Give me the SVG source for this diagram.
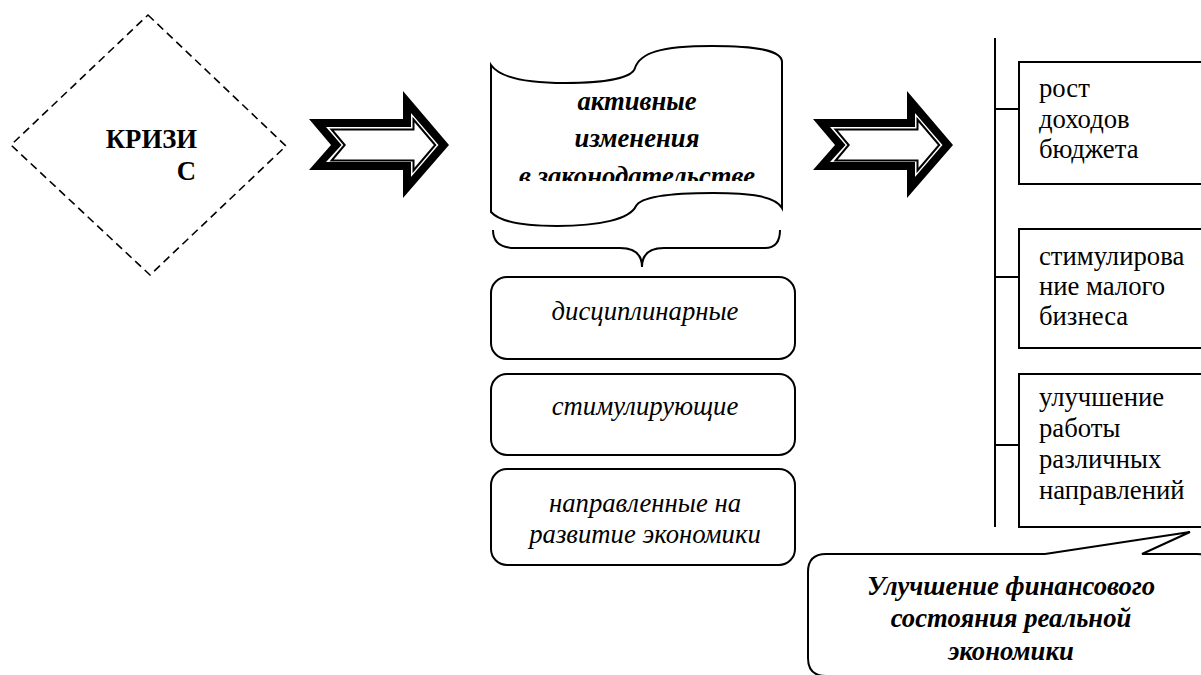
<svg xmlns="http://www.w3.org/2000/svg" width="1201" height="675" viewBox="0 0 1201 675">
<defs>
<style>
.t{font-family:"Liberation Serif","Times New Roman",serif;font-size:26.7px;fill:#000}
.bi{font-weight:bold;font-style:italic}
.i{font-style:italic}
.b{font-weight:bold}
.ln{fill:none;stroke:#000;stroke-width:2}
.box{fill:#fff;stroke:#000;stroke-width:2}
</style>
<clipPath id="tapeClip"><rect x="480" y="40" width="320" height="141"/></clipPath>
<g id="arrowShape">
<polygon points="309,119 403,119 403,91 449,145 403,198 403,170 309,170 331,145" fill="#000"/>
<polygon points="326,127 411,127 411,113 438.5,145 411,177 411,162 326,162 341.5,145" fill="#fff"/>
<polygon points="331.6,129.5 413.5,129.5 413.5,119.5 435.2,145 413.5,170.5 413.5,160.5 331.6,160.5 344.7,145" fill="#fff" stroke="#000" stroke-width="2"/>
</g>
</defs>
<rect width="1201" height="675" fill="#fff"/>

<g id="connectors">
<use href="#arrowShape"/>
<use href="#arrowShape" transform="translate(504,0)"/>
<path class="ln" d="M493,230 C493,242 500,248 515,248 L620,248 C635,248 642,255 642,267 C642,255 649,248 664,248 L765,248 C775,248 780,242 780,230"/>
<line class="ln" x1="995" y1="38" x2="995" y2="527"/>
<line class="ln" x1="995" y1="109" x2="1019" y2="109"/>
<line class="ln" x1="995" y1="277" x2="1019" y2="277"/>
<line class="ln" x1="995" y1="445" x2="1019" y2="445"/>
</g>

<g id="crisis">
<polygon points="148,15 286,146 150,275 11,145" fill="none" stroke="#000" stroke-width="1.6" stroke-dasharray="8,5"/>
<text class="t b" x="197" y="148" text-anchor="end">КРИЗИ</text>
<text class="t b" x="196" y="180" text-anchor="end">С</text>
</g>

<g id="changes">
<path class="box" d="M491,65 C500,78 530,83 565,83 C605,83 632,78 635,68 C640,53 660,46 712,46 C755,46 782,50 782,62 L782,208 C775,196 750,193 713,193 C670,193 641,197 636,206 C630,219 600,226 557,226 C525,226 500,222 491,212 Z"/>
<g clip-path="url(#tapeClip)">
<text class="t bi" x="637" y="110" text-anchor="middle">активные</text>
<text class="t bi" x="637" y="147" text-anchor="middle">изменения</text>
<text class="t bi" x="637" y="185" text-anchor="middle">в законодательстве</text>
</g>
</g>

<g id="disciplinary">
<rect class="box" x="491" y="277" width="304" height="82" rx="16"/>
<text class="t i" x="645" y="320" text-anchor="middle">дисциплинарные</text>
</g>
<g id="stimulating">
<rect class="box" x="491" y="374" width="304" height="81" rx="16"/>
<text class="t i" x="645" y="415" text-anchor="middle">стимулирующие</text>
</g>
<g id="development">
<rect class="box" x="491" y="469" width="304" height="96" rx="16"/>
<text class="t i" x="645" y="512" text-anchor="middle">направленные на</text>
<text class="t i" x="645" y="543" text-anchor="middle">развитие экономики</text>
</g>

<g id="budget">
<rect class="box" x="1019" y="62" width="200" height="122"/>
<text class="t" x="1039" y="97">рост</text>
<text class="t" x="1039" y="128">доходов</text>
<text class="t" x="1039" y="158">бюджета</text>
</g>
<g id="smallbiz">
<rect class="box" x="1019" y="229" width="200" height="119"/>
<text class="t" x="1039" y="265">стимулирова</text>
<text class="t" x="1039" y="295">ние малого</text>
<text class="t" x="1039" y="325">бизнеса</text>
</g>
<g id="work">
<rect class="box" x="1019" y="374" width="200" height="153"/>
<text class="t" x="1039" y="406">улучшение</text>
<text class="t" x="1039" y="437">работы</text>
<text class="t" x="1039" y="468">различных</text>
<text class="t" x="1039" y="499">направлений</text>
</g>

<g id="result">
<path class="box" d="M826,554 L1045,554 L1190,532 L1142,554 L1197,554 Q1215,554 1215,572 L1215,676 L826,676 Q808,676 808,658 L808,572 Q808,554 826,554 Z"/>
<text class="t bi" x="1011" y="595" text-anchor="middle">Улучшение финансового</text>
<text class="t bi" x="1011" y="627" text-anchor="middle">состояния реальной</text>
<text class="t bi" x="1011" y="660" text-anchor="middle">экономики</text>
</g>
</svg>
